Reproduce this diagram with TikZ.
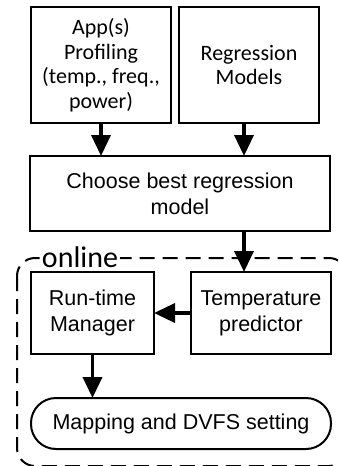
\documentclass[tikz,border=0pt]{standalone}
\usepackage{fontspec}
\setmainfont{Liberation Sans}
\newfontfamily\calfont{Carlito}
\usetikzlibrary{arrows.meta,positioning}

\begin{document}
\begin{tikzpicture}[x=1pt,y=-1pt,line join=miter]
\useasboundingbox[fill=white] (0,0) rectangle (338,466);
\clip (0,0) rectangle (338,466);
\tikzset{block/.style={draw=black,line width=2pt,align=center,inner sep=0pt},flow/.style={draw=black,line width=3.5pt,-{Triangle[length=21pt 0 0,width=19pt 0 0]},shorten >=-1pt},topfont/.style={font=\calfont\fontsize{22}{24.5}\selectfont},lowfont/.style={font=\fontsize{21.5}{26}\selectfont}}
% offline part
\node[block,topfont,minimum width=140pt,minimum height=116pt] (prof) at (101,65) {App(s)\\Profiling\\(temp., freq.,\\power)};
\node[block,topfont,minimum width=140pt,minimum height=116pt] (regr) at (249,65) {Regression\\Models};
\node[block,lowfont,minimum width=300pt,minimum height=75pt] (choose) at (180,193.5) {Choose best regression\\model};
\draw[flow] (prof.south) -- (prof.south |- choose.north);
\draw[flow] ([xshift=-5pt]regr.south) -- ([xshift=-5pt]regr.south |- choose.north);
% online part
\draw[line width=2pt,dash pattern=on 15pt off 8pt,rounded corners=18pt] (17,258) rectangle (347,466);
\node[fill=white,inner sep=2pt,font=\calfont\fontsize{30}{32}\selectfont] (onl) at (80,257) {online};
\node[block,lowfont,minimum width=123pt,minimum height=82pt] (rtm) at (92.5,313) {Run-time\\Manager};
\node[block,lowfont,minimum width=140pt,minimum height=82pt] (temp) at (261,313) {Temperature\\predictor};
\node[block,lowfont,minimum width=300pt,minimum height=51pt,rounded corners=25pt] (map) at (181,423.5) {Mapping and DVFS setting};
\draw[flow] ([xshift=-5pt]regr.south |- choose.south) -- ([xshift=-5pt]regr.south |- temp.north);
\draw[flow] (temp.west) -- (rtm.east);
\draw[flow] (rtm.south) -- (rtm.south |- map.north);
\end{tikzpicture}
\end{document}
